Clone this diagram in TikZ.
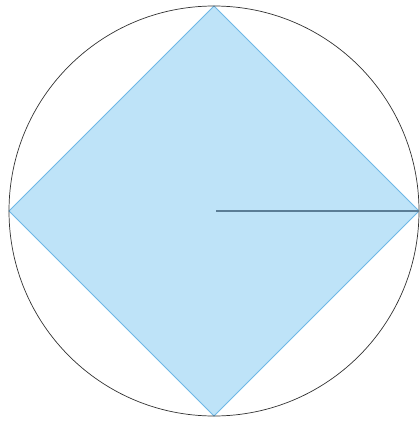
\documentclass[tikz,border=0pt]{standalone}
\usepackage{xcolor}
\definecolor{sq-fill}{HTML}{BEE3F8}
\definecolor{sq-edge}{HTML}{6DB7E6}
\definecolor{radius-gray}{HTML}{5B7D96}

\begin{document}
\begin{tikzpicture}[x=0.03cm, y=-0.03cm]
    % Diagram: circle with inscribed square (diamond) and one radius.
    % Coordinates in pixels of a 419 x 426 frame, y pointing down
    %   centre at (214,211), radius 205
    \useasboundingbox (0,0) rectangle (419,426);
    \coordinate (centre) at (214,211);
    \coordinate (top) at (214,6);
    \coordinate (right) at (419,211);
    \coordinate (bottom) at (214,416);
    \coordinate (left) at (9,211);
    \draw[fill=sq-fill, draw=sq-edge, line width=0.7pt, line join=miter]
      (top) -- (right) -- (bottom) -- (left) -- cycle;
    \draw[black!80, line width=0.6pt] (centre) circle[radius=205];
    \draw[radius-gray, line width=1.4pt] (216,211) -- (right);
\end{tikzpicture}
\end{document}
